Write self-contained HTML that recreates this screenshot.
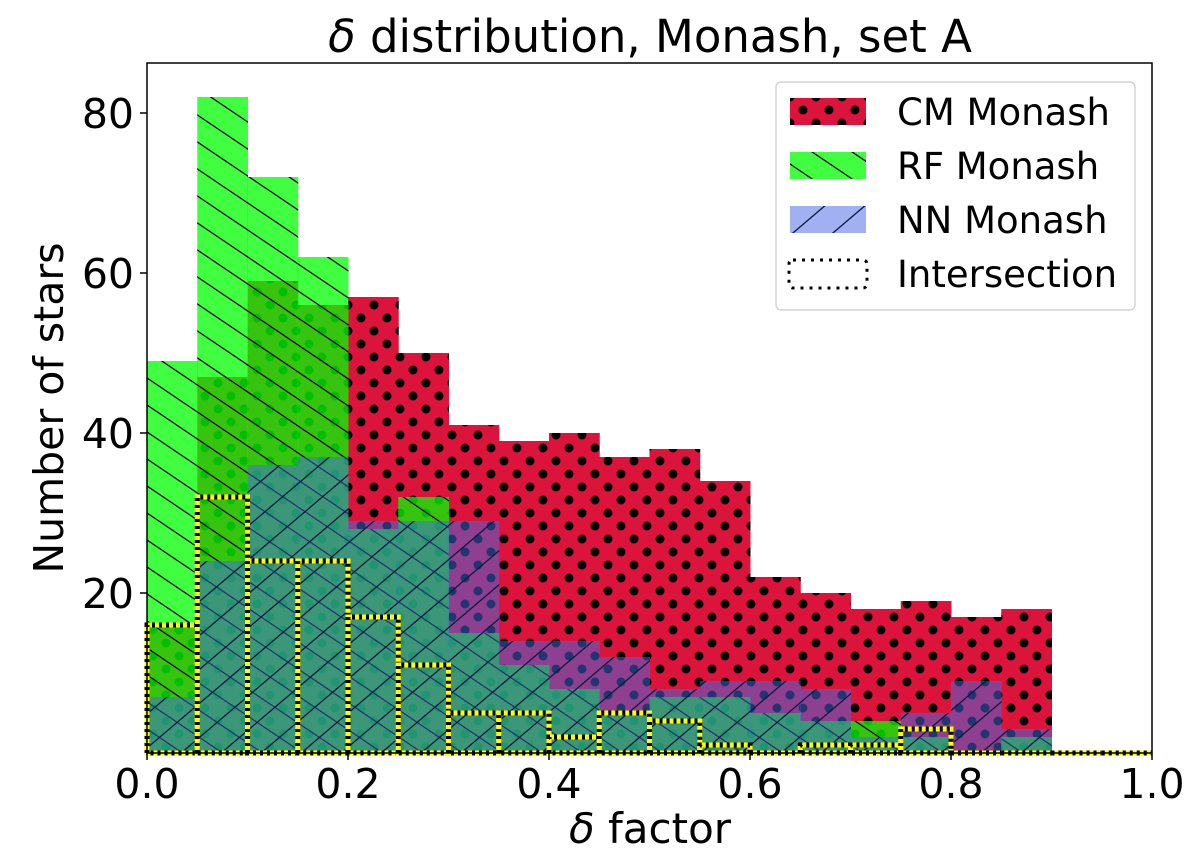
<!DOCTYPE html>
<html><head><meta charset="utf-8"><style>
body{margin:0;background:#fff}
svg text{font-family:"DejaVu Sans","Liberation Sans",sans-serif;fill:#000}
</style></head><body>
<svg id="chart" width="1200" height="854" viewBox="0 0 1200 854" xmlns="http://www.w3.org/2000/svg">
<defs>
<pattern id="dots" patternUnits="userSpaceOnUse" width="26" height="26" x="147" y="0">
<rect width="26" height="26" fill="#dc143c"/>
<circle cx="6" cy="6" r="4.5" fill="#000"/><circle cx="19" cy="19" r="4.5" fill="#000"/>
</pattern>
<pattern id="bslash" patternUnits="userSpaceOnUse" width="40" height="27" x="147" y="0">
<line x1="-40" y1="-27" x2="80" y2="54" stroke="#000" stroke-width="1.3"/>
<line x1="0" y1="-27" x2="120" y2="54" stroke="#000" stroke-width="1.3"/>
<line x1="-80" y1="-27" x2="40" y2="54" stroke="#000" stroke-width="1.3"/>
</pattern>
<pattern id="fslash" patternUnits="userSpaceOnUse" width="40" height="34" x="147" y="0">
<line x1="-40" y1="68" x2="80" y2="-34" stroke="#0a1a40" stroke-width="1.3"/>
<line x1="0" y1="68" x2="120" y2="-34" stroke="#0a1a40" stroke-width="1.3"/>
<line x1="-80" y1="68" x2="40" y2="-34" stroke="#0a1a40" stroke-width="1.3"/>
</pattern>
</defs>
<text x="650" y="52" font-size="45" text-anchor="middle"><tspan font-style="italic">δ</tspan> distribution, Monash, set A</text>
<g id="plot"></g>
<rect x="147" y="63" width="1005" height="690" fill="none" stroke="#000" stroke-width="1.5"/>
<g id="axes"></g>
<text x="650" y="843" font-size="42" text-anchor="middle"><tspan font-style="italic">δ</tspan> factor</text>
<text transform="translate(63,408) rotate(-90)" font-size="41" text-anchor="middle">Number of stars</text>
<g>
<rect x="776" y="82" width="359" height="228" rx="5" fill="#fff" fill-opacity="0.85" stroke="#ccc" stroke-width="1.2"/>
<g>
<rect x="790" y="98" width="76" height="27" fill="url(#dots)"/>
<text x="897" y="125" font-size="37">CM Monash</text></g>
<g>
<rect x="790" y="152" width="76" height="27" fill="#40ff40"/><rect x="790" y="152" width="76" height="27" fill="url(#bslash)"/>
<text x="897" y="179" font-size="37">RF Monash</text></g>
<g>
<rect x="790" y="206" width="76" height="27" fill="#a0b0f0"/><rect x="790" y="206" width="76" height="27" fill="url(#fslash)"/>
<text x="897" y="233" font-size="37">NN Monash</text></g>
<g>
<rect x="789" y="260" width="78" height="28" rx="4" fill="none" stroke="#000" stroke-width="3" stroke-dasharray="3,6"/>
<text x="897" y="287" font-size="37">Intersection</text></g>
</g>
</svg>
<script>
const binEdges = [0,0.05,0.1,0.15,0.2,0.25,0.3,0.35,0.4,0.45,0.5,0.55,0.6,0.65,0.7,0.75,0.8,0.85,0.9,0.95,1.0];
const cmCounts = [16,47,59,56,57,50,41,39,40,37,38,34,22,20,18,19,17,18,0,0];
const rfCounts = [49,82,72,62,28,32,15,11,8,5,7,7,5,4,4,2,0,2,0,0];
const nnCounts = [7,24,36,37,29,29,29,14,14,12,8,9,9,8,2,5,9,3,0,0];
const interCounts = [16,32,24,24,17,11,5,5,2,5,4,1,0,1,1,3,0,0,0,0];
const yTicks = [20,40,60,80];
const xTicks = [0,0.2,0.4,0.6,0.8,1.0];
const xTickLabels = ["0.0","0.2","0.4","0.6","0.8","1.0"];

const NS="http://www.w3.org/2000/svg";
const X0=147,X1=1152,Y0=753,Y1=63,YMAX=86.25;
const xs=v=>X0+(X1-X0)*v;
const ys=v=>Y0-(Y0-Y1)*v/YMAX;
const plot=document.getElementById('plot');
const axes=document.getElementById('axes');
function mk(tag,attrs,parent){const e=document.createElementNS(NS,tag);for(const k in attrs)e.setAttribute(k,attrs[k]);parent.appendChild(e);return e;}

function bars(counts,fills,name){
  counts.forEach((c,i)=>{
    if(c<=0)return;
    const x=xs(binEdges[i]),w=xs(binEdges[i+1])-x,y=ys(c),h=Y0-y;
    fills.forEach(f=>{
      const r=mk('rect',{x:x,y:y,width:w+0.5,height:h,fill:f.fill,'fill-opacity':f.op},plot);
      
      
    });
  });
}
bars(cmCounts,[{fill:'url(#dots)',op:1}],'cm');
bars(rfCounts,[{fill:'#00ff00',op:0.75},{fill:'url(#bslash)',op:1}],'rf');
bars(nnCounts,[{fill:'#4169e1',op:0.5},{fill:'url(#fslash)',op:1}],'nn');

// intersection bars: outlined rectangles (paths so zero-height bins still draw)
interCounts.forEach((c,i)=>{
  const x=xs(binEdges[i]),x2=xs(binEdges[i+1]),y=ys(c);
  const d=c>0?`M${x},${Y0} L${x},${y} L${x2},${y} L${x2},${Y0} Z`:`M${x},${Y0} L${x2},${Y0}`;
  const r1=mk('path',{d:d,fill:'none',stroke:'#ffff00','stroke-width':5},plot);
  
  
  const r2=mk('path',{d:d,fill:'none',stroke:'#000','stroke-width':5,'stroke-dasharray':'3,4'},plot);
  
  
});

xTicks.forEach((v,i)=>{
  mk('line',{x1:xs(v),x2:xs(v),y1:Y0,y2:Y0+7,stroke:'#000','stroke-width':1.5},axes);
  const t=mk('text',{x:xs(v),y:Y0+45,'font-size':41,'text-anchor':'middle'},axes);
  t.textContent=xTickLabels[i];
  
  
});
yTicks.forEach(v=>{
  mk('line',{x1:X0-7,x2:X0,y1:ys(v),y2:ys(v),stroke:'#000','stroke-width':1.5},axes);
  const t=mk('text',{x:X0-13,y:ys(v)+15,'font-size':41,'text-anchor':'end'},axes);
  t.textContent=String(v);
  
  
});
</script>
</body></html>
